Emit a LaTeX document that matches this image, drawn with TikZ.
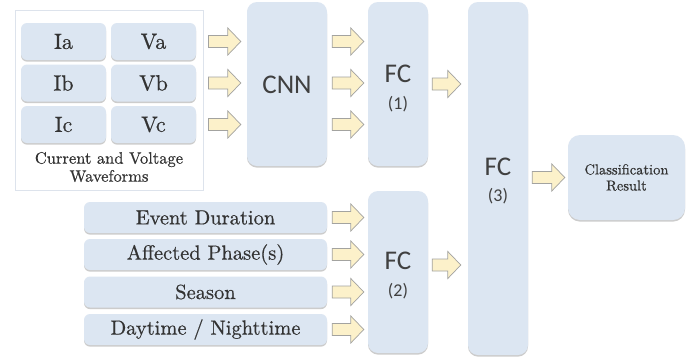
\documentclass[tikz,border=0pt]{standalone}
\usepackage{fontspec}
\newfontfamily\calibri{Carlito}
\newfontfamily\serifw{lmroman10-regular.otf}[FakeBold=0.6]
\usetikzlibrary{calc,shadows}
\definecolor{boxblue}{HTML}{DCE6F2}
\definecolor{textgray}{HTML}{404040}
\definecolor{serifgray}{HTML}{333333}
\definecolor{arrowfill}{HTML}{FCF1CA}
\definecolor{arrowline}{HTML}{A3A3A0}
\definecolor{frameline}{HTML}{DDE3EC}

\tikzset{
  panel/.style={rounded corners=6pt, fill=boxblue, draw=none, text=serifgray,
    inner sep=0pt,
    drop shadow={shadow xshift=0pt, shadow yshift=-1.6pt, opacity=0.4, fill=black!50}},
  cell/.style={panel, minimum width=85pt, minimum height=37pt,
    font=\serifw\fontsize{22}{24}\selectfont},
  feat/.style={panel, minimum width=243pt, minimum height=31pt,
    font=\serifw\fontsize{20.5}{22}\selectfont},
  layer/.style={panel, rounded corners=10pt, minimum width=60pt, align=center,
    text=textgray, font=\calibri\fontsize{27}{28}\selectfont},
  layertext/.style={align=center, inner sep=0pt, text=textgray,
    font=\calibri\fontsize{27}{28}\selectfont},
  blockarrow/.style={fill=arrowfill, draw=arrowline, line width=0.7pt, line join=miter,
    to path={let \p1=(\tikztostart), \p2=(\tikztotarget) in
      (\x1,\y1+6pt) -- (\x2-13pt,\y1+6pt) -- (\x2-13pt,\y1+13.5pt) -- (\x2,\y1)
      -- (\x2-13pt,\y1-13.5pt) -- (\x2-13pt,\y1-6pt) -- (\x1,\y1-6pt) -- cycle}}
}
\newcommand{\layerno}[1]{{\fontsize{18}{18}\selectfont(#1)}}

\begin{document}
\begin{tikzpicture}[x=1pt,y=-1pt]
\useasboundingbox[fill=white] (0,0) rectangle (691,357);

% waveform inputs
\node[draw=frameline, fill=white, line width=0.8pt, minimum width=188pt,
  minimum height=180pt, inner sep=0pt] (wave) at (109,100) {};
\node[cell] (ia) at (63.5,41.5) {Ia};
\node[cell] (va) at (153.5,41.5) {Va};
\node[cell] (ib) at (63.5,83) {Ib};
\node[cell] (vb) at (153.5,83) {Vb};
\node[cell] (ic) at (63.5,124.5) {Ic};
\node[cell] (vc) at (153.5,124.5) {Vc};
\node[align=center, text=serifgray, font=\serifw\fontsize{16.5}{18}\selectfont]
  (cap) at (109,167) {Current and Voltage\\Waveforms};

% network layers
\node[layer, minimum width=80pt, minimum height=164pt] (cnn) at (287,84) {};
\node[layertext] (cnnt) at ($(cnn)+(0,1)$) {CNN};
\node[layer, minimum height=164pt] (fc1) at (398,84) {};
\node[layertext] (fc1t) at ($(fc1)+(0,4)$) {FC\\[-1pt]\layerno{1}};
\node[layer, minimum height=162pt] (fc2) at (398,272) {};
\node[layertext] (fc2t) at ($(fc2)+(0,3)$) {FC\\[-1pt]\layerno{2}};
\node[layer, minimum height=353pt] (fc3) at (498,178.5) {};
\node[layertext] (fc3t) at ($(fc3)+(0,2)$) {FC\\[-2pt]\layerno{3}};
\node[panel, rounded corners=12pt, minimum width=117pt, minimum height=85pt,
  align=center, font=\serifw\fontsize{14.5}{16}\selectfont] (cls) at (626.5,177.5)
  {Classification\\Result};

% event features
\node[feat] (ev) at (205.5,217.5) {Event Duration};
\node[feat] (af) at (205.5,254.5) {Affected Phase(s)};
\node[feat] (se) at (205.5,292) {Season};
\node[feat] (dn) at (205.5,329.5) {Daytime / Nighttime};

% block arrows
\foreach \r in {ia,ib,ic}{
  \draw[blockarrow] ($(wave.east |- \r)+(5,0)$) to ($(cnn.west |- \r)+(-6,0)$);
  \draw[blockarrow] ($(cnn.east |- \r)+(5,0)$) to ($(fc1.west |- \r)+(-4,0)$);
}
\foreach \r in {ev,af,se,dn}{
  \draw[blockarrow] ($(\r.east)+(5,0)$) to ($(fc2.west |- \r)+(-4,0)$);
}
\draw[blockarrow] ($(fc1.east)+(4,0)$) to ($(fc3.west |- fc1)+(-7,0)$);
\draw[blockarrow] ($(fc2.east)+(4,-7)$) to ($(fc3.west |- fc2)+(-7,-7)$);
\draw[blockarrow] ($(fc3.east |- cls)+(4,0)$) to ($(cls.west)+(-3,0)$);
\end{tikzpicture}
\end{document}
